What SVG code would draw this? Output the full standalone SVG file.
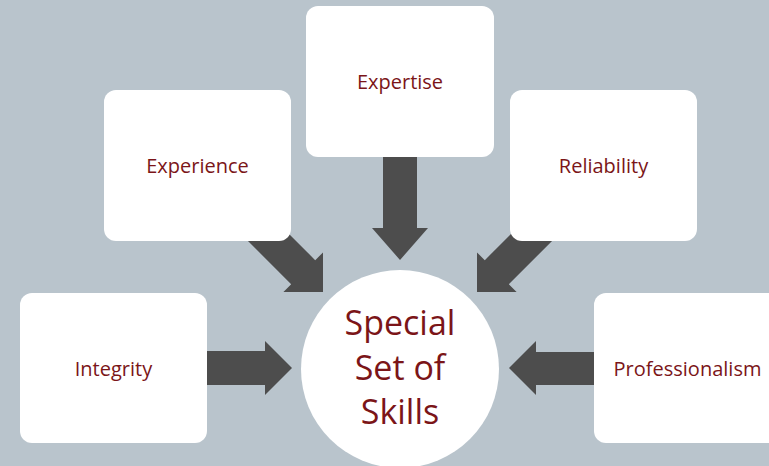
<svg xmlns="http://www.w3.org/2000/svg" width="769" height="466" viewBox="0 0 769 466">
  <style>
    .box { fill: #FFFFFF; }
    .arrow { fill: #4D4D4D; }
    .lbl { font-family: "Open Sans", "Noto Sans", sans-serif; font-size: 20px; fill: #7B1518; text-anchor: middle; }
    .big { font-family: "Open Sans", "Noto Sans", sans-serif; font-size: 34px; fill: #7B1518; text-anchor: middle; }
  </style>
  <defs>
    <polygon id="arrowShape" points="-110,-17 -28,-17 -28,-28 0,0 -28,28 -28,17 -110,17"/>
  </defs>
  <rect x="0" y="0" width="769" height="466" fill="#B9C4CC"/>

  <g id="connectors">
    <polygon class="arrow" points="383,150 417,150 417,228 428,228 400,260 372,228 383,228"/>
    <polygon class="arrow" points="200,351 265,351 265,341 292,368 265,395 265,385 200,385"/>
    <polygon class="arrow" points="600,352 536,352 536,341 509,368 536,395 536,385 600,385"/>
    <use href="#arrowShape" class="arrow" transform="translate(323 292) rotate(45)"/>
    <use href="#arrowShape" class="arrow" transform="translate(477 292) rotate(135)"/>
  </g>

  <g id="node-expertise">
    <rect class="box" x="306" y="6" width="188" height="151" rx="12"/>
    <text class="lbl" x="400" y="89">Expertise</text>
  </g>
  <g id="node-experience">
    <rect class="box" x="104" y="90" width="187" height="151" rx="12"/>
    <text class="lbl" x="197.5" y="173">Experience</text>
  </g>
  <g id="node-reliability">
    <rect class="box" x="510" y="90" width="187" height="151" rx="12"/>
    <text class="lbl" x="603.5" y="173">Reliability</text>
  </g>
  <g id="node-integrity">
    <rect class="box" x="20" y="293" width="187" height="150" rx="12"/>
    <text class="lbl" x="113.5" y="375.5">Integrity</text>
  </g>
  <g id="node-professionalism">
    <rect class="box" x="594" y="293" width="187" height="150" rx="12"/>
    <text class="lbl" x="687.5" y="375.5">Professionalism</text>
  </g>
  <g id="node-center">
    <circle class="box" cx="400" cy="369" r="99"/>
    <text class="big" x="400" y="335">Special</text>
    <text class="big" x="400" y="380">Set of</text>
    <text class="big" x="400" y="424">Skills</text>
  </g>
</svg>
